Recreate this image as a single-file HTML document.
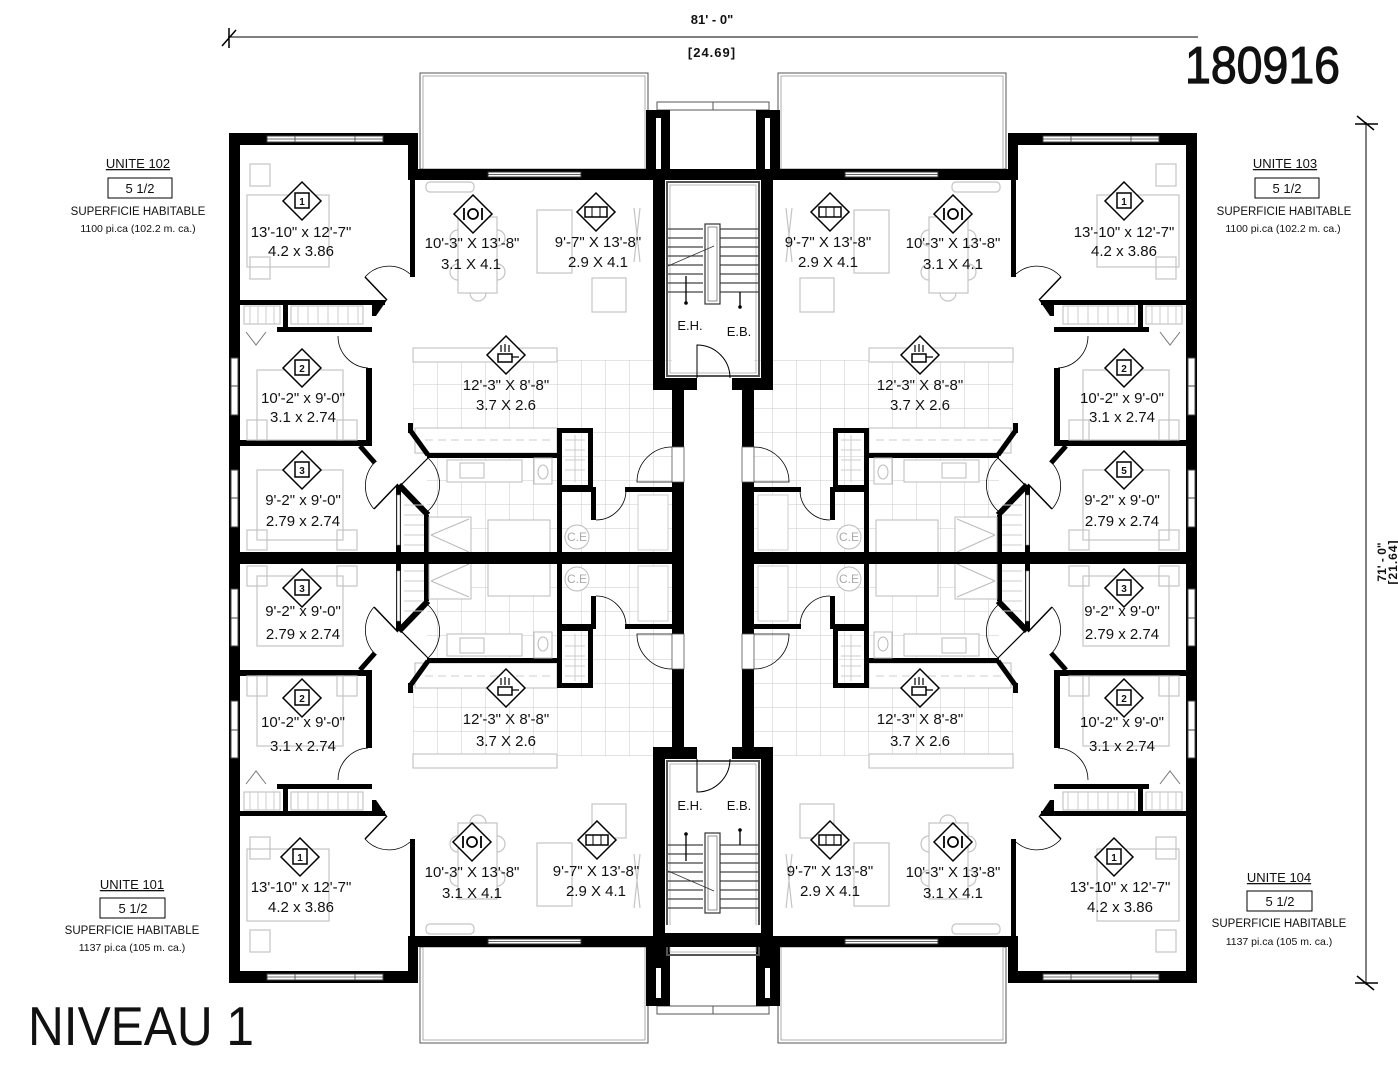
<!DOCTYPE html>
<html><head><meta charset="utf-8"><style>
html,body{margin:0;padding:0;background:#fff;}
svg{display:block;}
text{font-family:"Liberation Sans",sans-serif;fill:#111;}
.r{font-size:15px;text-anchor:middle;}
.u{font-size:13px;text-anchor:middle;}
.s{font-size:11.5px;text-anchor:middle;}
</style></head><body>
<svg width="1398" height="1080" viewBox="0 0 1398 1080" xmlns="http://www.w3.org/2000/svg">
<defs>
<pattern id="tile" x="413" y="360" width="24" height="24" patternUnits="userSpaceOnUse">
<path d="M0 0H24M0 0V24" stroke="#c8c8c8" stroke-width="1" fill="none"/>
</pattern>
<g id="dia"><polygon points="0,-19 19,0 0,19 -19,0" fill="#fff" stroke="#000" stroke-width="1.5"/></g>
<g id="bedI"><use href="#dia"/><rect x="-7" y="-8" width="14" height="15" fill="none" stroke="#000" stroke-width="1.5"/></g>
<g id="dinI"><use href="#dia"/><circle r="5" fill="none" stroke="#000" stroke-width="1.8"/><path d="M-9 -6V6M9 -6V6" stroke="#000" stroke-width="1.8"/></g>
<g id="sofI"><use href="#dia"/><rect x="-11" y="-5" width="22" height="10" fill="none" stroke="#000" stroke-width="1.5"/><path d="M-4 -5V5M4 -5V5" stroke="#000" stroke-width="1"/></g>
<g id="kitI"><use href="#dia"/><rect x="-8" y="-1" width="14" height="8" fill="none" stroke="#000" stroke-width="1.5"/><path d="M6 2H13M-5 -3V-10M-1 -3V-11M3 -3V-10" stroke="#000" stroke-width="1.2" fill="none"/></g>

<g id="q">
 <rect x="427" y="360" width="245" height="197" fill="url(#tile)"/>
 <rect x="413" y="360" width="14" height="70" fill="url(#tile)"/>
 <rect x="413" y="348" width="144" height="14" fill="#fff" stroke="#bbb"/>
 <rect x="415" y="428" width="142" height="25" fill="#fff" stroke="#bbb"/>
 <path d="M425 440H555" stroke="#ccc" stroke-dasharray="8 5"/>
 <rect x="420" y="73" width="228" height="96" fill="none" stroke="#555" stroke-width="1"/>
 <rect x="423" y="76" width="222" height="93" fill="none" stroke="#999" stroke-width="0.8"/>
 <rect x="657" y="102" width="56" height="8" fill="none" stroke="#555"/>
 <rect x="646" y="110" width="24" height="60" fill="#000"/>
 <rect x="656" y="118" width="5" height="52" fill="#fff"/>
 <rect x="229" y="133" width="11" height="429" fill="#000"/>
 <rect x="229" y="133" width="189" height="12" fill="#000"/>
 <rect x="408" y="133" width="10" height="47" fill="#000"/>
 <rect x="408" y="169" width="305" height="11" fill="#000"/>
 <rect x="267" y="136" width="116" height="6" fill="#fff" stroke="#444"/>
 <path d="M295 136V142M355 136V142M267 139H383" stroke="#444" stroke-width="0.8"/>
 <rect x="488" y="172" width="93" height="5" fill="#fff" stroke="#333"/>
 <path d="M488 174.5H581" stroke="#333" stroke-width="0.8"/>
 <rect x="231" y="358" width="7" height="57" fill="#fff" stroke="#444"/>
 <rect x="231" y="470" width="7" height="57" fill="#fff" stroke="#444"/>
 <path d="M231 386H238M231 498H238" stroke="#444"/>
 <rect x="410" y="180" width="5" height="97" fill="#000"/>
 <path d="M387 300L365 277" stroke="#000" stroke-width="1.5"/>
 <path d="M365 277A32 32 0 0 1 410 274" stroke="#000" fill="none" stroke-width="0.8"/>
 <polygon points="372,300 387,300 376,316 372,316" fill="#000"/>
 <rect x="240" y="300" width="145" height="5" fill="#000"/>
 <rect x="277" y="327" width="95" height="5" fill="#000"/>
 <rect x="283" y="304" width="5" height="23" fill="#000"/>
 <rect x="244" y="306" width="36" height="18" fill="none" stroke="#bbb"/>
 <rect x="291" y="306" width="72" height="18" fill="none" stroke="#bbb"/>
 <path d="M250 306V324M258 306V324M266 306V324M274 306V324M298 306V324M308 306V324M318 306V324M328 306V324M338 306V324M348 306V324M358 306V324" stroke="#ccc"/>
 <path d="M246 332L256 345L266 332" fill="none" stroke="#777"/>
 <rect x="366" y="368" width="6" height="78" fill="#000"/>
 <path d="M338 336A32 32 0 0 0 368 368" stroke="#000" fill="none" stroke-width="0.8"/>
 <rect x="240" y="440" width="132" height="6" fill="#000"/>
 <path d="M360 446L375 463" stroke="#000" stroke-width="5"/>
 <path d="M398 484L374 509" stroke="#000" stroke-width="1.5"/>
 <path d="M374 463A35 35 0 0 0 374 509" stroke="#000" fill="none" stroke-width="0.8"/>
 <rect x="396" y="485" width="5" height="72" fill="#000"/>
 <rect x="397" y="495" width="3" height="50" fill="#fff" stroke="#888" stroke-width="0.6"/>
 <path d="M399 485L428 515" stroke="#000" stroke-width="6"/>
 <rect x="424" y="515" width="5" height="42" fill="#000"/>
 <path d="M404 505H424M404 515H424M404 525H424M404 535H424M404 545H424" stroke="#ccc"/>
 <rect x="408" y="423" width="5" height="10" fill="#000"/>
 <path d="M410 430L428 455" stroke="#000" stroke-width="5"/>
 <rect x="427" y="453" width="131" height="5" fill="#000"/>
 <path d="M428 458L402 484" stroke="#000" stroke-width="1.2"/>
 <path d="M428 458A36 36 0 0 1 428 511" stroke="#000" stroke-width="0.8" fill="none"/>
 <rect x="447" y="460" width="75" height="22" fill="#fff" stroke="#bbb"/>
 <rect x="460" y="463" width="24" height="15" fill="none" stroke="#bbb"/>
 <rect x="534" y="458" width="18" height="26" fill="#fff" stroke="#bbb"/>
 <ellipse cx="543" cy="472" rx="5" ry="7" fill="none" stroke="#bbb"/>
 <rect x="429" y="517" width="42" height="37" fill="#fff" stroke="#bbb"/>
 <path d="M431 535L469 519M431 535L469 552" stroke="#bbb"/>
 <rect x="488" y="520" width="62" height="34" fill="#fff" stroke="#bbb"/>
 <rect x="557" y="428" width="5" height="129" fill="#000"/>
 <rect x="557" y="428" width="36" height="5" fill="#000"/>
 <rect x="588" y="428" width="5" height="60" fill="#000"/>
 <rect x="557" y="485" width="36" height="5" fill="#000"/>
 <path d="M565 440H585M565 450H585M565 460H585M565 470H585M575 435V482" stroke="#ccc"/>
 <rect x="562" y="487" width="33" height="5" fill="#000"/>
 <rect x="591" y="487" width="5" height="33" fill="#000"/>
 <path d="M596 520A30 30 0 0 0 626 490" stroke="#000" stroke-width="0.8" fill="none"/>
 <rect x="625" y="487" width="50" height="5" fill="#000"/>
 <rect x="638" y="495" width="30" height="55" fill="#fff" stroke="#ccc"/>
 <circle cx="577" cy="537" r="12" fill="#fff" stroke="#bbb"/>
 <rect x="672" y="390" width="12" height="57" fill="#000"/>
 <rect x="672" y="482" width="12" height="80" fill="#000"/>
 <rect x="672" y="447" width="12" height="35" fill="#fff" stroke="#555" stroke-width="0.8"/>
 <path d="M672 447A35 35 0 0 0 637 482H672" stroke="#000" stroke-width="0.8" fill="none"/>
 <rect x="229" y="552" width="455" height="10" fill="#000"/>
 <g fill="none" stroke="#c4c4c4" stroke-width="1.2">
  <rect x="247" y="195" width="82" height="72"/>
  <rect x="250" y="164" width="20" height="22"/><rect x="250" y="257" width="20" height="22"/>
  <rect x="458" y="217" width="39" height="76"/>
  <path d="M458 230A8 8 0 0 0 458 246M458 264A8 8 0 0 0 458 280M497 230A8 8 0 0 1 497 246M497 264A8 8 0 0 1 497 280M470 293A8 8 0 0 0 486 293"/>
  <rect x="426" y="182" width="48" height="10" rx="4"/>
  <rect x="537" y="210" width="35" height="63"/>
  <rect x="592" y="278" width="34" height="34"/>
  <path d="M634 208L640 262M640 208L634 262"/>
  <rect x="257" y="370" width="86" height="70"/>
  <rect x="247" y="420" width="20" height="20"/><rect x="337" y="420" width="20" height="20"/>
  <rect x="257" y="470" width="86" height="70"/>
  <rect x="247" y="530" width="20" height="20"/><rect x="337" y="530" width="20" height="20"/>
 </g>
</g>

<g id="stair">
 <rect x="667" y="182" width="92" height="194" fill="none" stroke="#555" stroke-width="2"/>
 <rect x="670" y="185" width="86" height="188" fill="none" stroke="#aaa" stroke-width="0.8"/>
 <g stroke="#444" stroke-width="1.3">
  <path d="M668 229H703M668 238H703M668 247H703M668 256H703M668 265H703M668 274H703M668 283H703M668 292H703"/>
  <path d="M720 229H759M720 238H759M720 247H759M720 256H759M720 265H759M720 274H759M720 283H759M720 292H759"/>
 </g>
 <rect x="705" y="224" width="15" height="80" fill="#fff" stroke="#333" stroke-width="1.2"/>
 <rect x="708" y="227" width="9" height="74" fill="none" stroke="#777" stroke-width="0.8"/>
 <path d="M668 266L714 246" stroke="#333" stroke-width="0.8"/>
 <path d="M686 302V276M740 306V292" stroke="#000" stroke-width="1.3"/>
 <circle cx="686" cy="303" r="1.8"/><circle cx="740" cy="307" r="1.8"/>
 <rect x="653" y="169" width="12" height="221" fill="#000"/>
 <rect x="761" y="169" width="12" height="221" fill="#000"/>
 <rect x="653" y="378" width="44" height="12" fill="#000"/>
 <rect x="732" y="378" width="41" height="12" fill="#000"/>
 <path d="M697 378V345A33 33 0 0 1 730 378" stroke="#000" stroke-width="1" fill="none"/>
</g>
</defs>

<use href="#q"/>
<use href="#q" transform="translate(1426,0) scale(-1,1)"/>
<use href="#q" transform="translate(0,1116) scale(1,-1)"/>
<use href="#q" transform="translate(1426,1116) scale(-1,-1)"/>
<use href="#stair"/>
<use href="#stair" transform="translate(0,1137) scale(1,-1)"/>
<rect x="653" y="925" width="120" height="22" fill="#000"/>
<rect x="665" y="925" width="96" height="8" fill="#fff"/>
<rect x="672" y="715" width="12" height="32" fill="#000"/>
<rect x="742" y="715" width="12" height="32" fill="#000"/>

<path d="M228 37H1198" stroke="#000" stroke-width="1"/>
<path d="M229 28V48M222 46L236 30" stroke="#000" stroke-width="1.5"/>
<path d="M1366 122V985" stroke="#000" stroke-width="1"/>
<path d="M1355 124H1378M1357 116L1374 130M1355 983H1378M1357 976L1374 990" stroke="#000" stroke-width="1.5"/>
<text x="712" y="24" style="font-size:13px;text-anchor:middle;font-weight:bold">81' - 0"</text>
<text x="712" y="57" style="font-size:13px;text-anchor:middle;font-weight:bold;letter-spacing:1px">[24.69]</text>
<text transform="translate(1386,562) rotate(-90)" style="font-size:12px;text-anchor:middle;font-weight:bold">71' - 0"</text>
<text transform="translate(1397,562) rotate(-90)" style="font-size:12px;text-anchor:middle;font-weight:bold;letter-spacing:1px">[21.64]</text>

<text x="1185" y="83" textLength="155" lengthAdjust="spacingAndGlyphs" style="font-size:52px;stroke:#111;stroke-width:1.2">180916</text>
<text x="28" y="1045" textLength="226" lengthAdjust="spacingAndGlyphs" style="font-size:55px">NIVEAU 1</text>

<text class="u" x="138" y="168" text-decoration="underline">UNITE 102</text>
<rect x="108" y="178" width="64" height="20" fill="none" stroke="#000"/>
<text class="u" x="140" y="193">5 1/2</text>
<text class="s" x="138" y="215">SUPERFICIE HABITABLE</text>
<text class="s" x="138" y="232" style="font-size:10.5px">1100 pi.ca (102.2 m. ca.)</text>

<text class="u" x="1285" y="168" text-decoration="underline">UNITE 103</text>
<rect x="1255" y="178" width="64" height="20" fill="none" stroke="#000"/>
<text class="u" x="1287" y="193">5 1/2</text>
<text class="s" x="1284" y="215">SUPERFICIE HABITABLE</text>
<text class="s" x="1283" y="232" style="font-size:10.5px">1100 pi.ca (102.2 m. ca.)</text>

<text class="u" x="132" y="889" text-decoration="underline">UNITE 101</text>
<rect x="100" y="898" width="65" height="20" fill="none" stroke="#000"/>
<text class="u" x="133" y="913">5 1/2</text>
<text class="s" x="132" y="934">SUPERFICIE HABITABLE</text>
<text class="s" x="132" y="951" style="font-size:10.5px">1137 pi.ca (105 m. ca.)</text>

<text class="u" x="1279" y="882" text-decoration="underline">UNITE 104</text>
<rect x="1247" y="891" width="65" height="20" fill="none" stroke="#000"/>
<text class="u" x="1280" y="906">5 1/2</text>
<text class="s" x="1279" y="927">SUPERFICIE HABITABLE</text>
<text class="s" x="1279" y="945" style="font-size:10.5px">1137 pi.ca (105 m. ca.)</text>

<use href="#bedI" x="302" y="201"/><use href="#bedI" x="302" y="368"/><use href="#bedI" x="302" y="470"/>
<use href="#bedI" x="302" y="588"/><use href="#bedI" x="302" y="698"/><use href="#bedI" x="300" y="857"/>
<use href="#bedI" x="1124" y="201"/><use href="#bedI" x="1124" y="368"/><use href="#bedI" x="1124" y="470"/>
<use href="#bedI" x="1124" y="588"/><use href="#bedI" x="1124" y="698"/><use href="#bedI" x="1114" y="857"/>
<g style="font-size:10px;text-anchor:middle;font-weight:bold">
<text x="302" y="205">1</text><text x="302" y="372">2</text><text x="302" y="474">3</text>
<text x="302" y="592">3</text><text x="302" y="702">2</text><text x="300" y="861">1</text>
<text x="1124" y="205">1</text><text x="1124" y="372">2</text><text x="1124" y="474">5</text>
<text x="1124" y="592">3</text><text x="1124" y="702">2</text><text x="1114" y="861">1</text>
</g>
<use href="#dinI" x="473" y="214"/><use href="#dinI" x="953" y="214"/>
<use href="#dinI" x="472" y="842"/><use href="#dinI" x="953" y="842"/>
<use href="#sofI" x="596" y="212"/><use href="#sofI" x="830" y="212"/>
<use href="#sofI" x="597" y="840"/><use href="#sofI" x="830" y="840"/>
<use href="#kitI" x="506" y="355"/><use href="#kitI" x="920" y="355"/>
<use href="#kitI" x="506" y="688"/><use href="#kitI" x="920" y="688"/>

<g class="r">
<text class="r" x="301" y="237">13'-10" x 12'-7"</text><text class="r" x="301" y="256">4.2 x 3.86</text>
<text class="r" x="303" y="403">10'-2" x 9'-0"</text><text class="r" x="303" y="422">3.1 x 2.74</text>
<text class="r" x="303" y="505">9'-2" x 9'-0"</text><text class="r" x="303" y="526">2.79 x 2.74</text>
<text class="r" x="472" y="248">10'-3" X 13'-8"</text><text class="r" x="471" y="269">3.1 X 4.1</text>
<text class="r" x="598" y="247">9'-7" X 13'-8"</text><text class="r" x="598" y="267">2.9 X 4.1</text>
<text class="r" x="506" y="390">12'-3" X 8'-8"</text><text class="r" x="506" y="410">3.7 X 2.6</text>

<text class="r" x="1124" y="237">13'-10" x 12'-7"</text><text class="r" x="1124" y="256">4.2 x 3.86</text>
<text class="r" x="1122" y="403">10'-2" x 9'-0"</text><text class="r" x="1122" y="422">3.1 x 2.74</text>
<text class="r" x="1122" y="505">9'-2" x 9'-0"</text><text class="r" x="1122" y="526">2.79 x 2.74</text>
<text class="r" x="953" y="248">10'-3" X 13'-8"</text><text class="r" x="953" y="269">3.1 X 4.1</text>
<text class="r" x="828" y="247">9'-7" X 13'-8"</text><text class="r" x="828" y="267">2.9 X 4.1</text>
<text class="r" x="920" y="390">12'-3" X 8'-8"</text><text class="r" x="920" y="410">3.7 X 2.6</text>

<text class="r" x="303" y="616">9'-2" x 9'-0"</text><text class="r" x="303" y="639">2.79 x 2.74</text>
<text class="r" x="303" y="727">10'-2" x 9'-0"</text><text class="r" x="303" y="751">3.1 x 2.74</text>
<text class="r" x="301" y="892">13'-10" x 12'-7"</text><text class="r" x="301" y="912">4.2 x 3.86</text>
<text class="r" x="472" y="877">10'-3" X 13'-8"</text><text class="r" x="472" y="898">3.1 X 4.1</text>
<text class="r" x="596" y="876">9'-7" X 13'-8"</text><text class="r" x="596" y="896">2.9 X 4.1</text>
<text class="r" x="506" y="724">12'-3" X 8'-8"</text><text class="r" x="506" y="746">3.7 X 2.6</text>

<text class="r" x="1122" y="616">9'-2" x 9'-0"</text><text class="r" x="1122" y="639">2.79 x 2.74</text>
<text class="r" x="1122" y="727">10'-2" x 9'-0"</text><text class="r" x="1122" y="751">3.1 x 2.74</text>
<text class="r" x="1120" y="892">13'-10" x 12'-7"</text><text class="r" x="1120" y="912">4.2 x 3.86</text>
<text class="r" x="953" y="877">10'-3" X 13'-8"</text><text class="r" x="953" y="898">3.1 X 4.1</text>
<text class="r" x="830" y="876">9'-7" X 13'-8"</text><text class="r" x="830" y="896">2.9 X 4.1</text>
<text class="r" x="920" y="724">12'-3" X 8'-8"</text><text class="r" x="920" y="746">3.7 X 2.6</text>
</g>

<g style="font-size:13px;text-anchor:middle">
<text x="690" y="330">E.H.</text><text x="739" y="336">E.B.</text>
<text x="690" y="810">E.H.</text><text x="739" y="810">E.B.</text>
</g>
<g style="font-size:12px;text-anchor:middle">
<text x="577" y="541" style="fill:#aaa">C.E</text><text x="577" y="583" style="fill:#aaa">C.E</text>
<text x="849" y="541" style="fill:#aaa">C.E</text><text x="849" y="583" style="fill:#aaa">C.E</text>
</g>
</svg>
</body></html>
